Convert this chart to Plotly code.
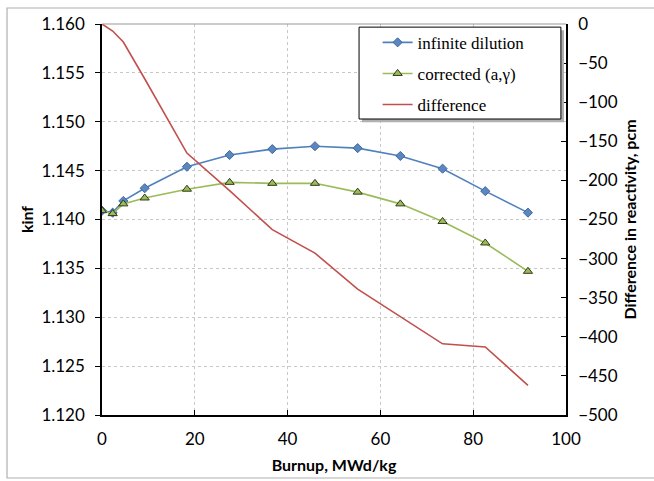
import plotly.graph_objects as go

burnup = [0, 2.3, 4.6, 9.2, 18.3, 27.5, 36.7, 45.9, 55.1, 64.3, 73.4, 82.6, 91.8]
kinf_inf = [1.1409, 1.1407, 1.1419, 1.1432, 1.1454, 1.1466, 1.1472, 1.1475, 1.1473, 1.1465, 1.1452, 1.1429, 1.1407]
kinf_corr = [1.1409, 1.1406, 1.1416, 1.1422, 1.1431, 1.1438, 1.1437, 1.1437, 1.1428, 1.1416, 1.1398, 1.1376, 1.1347]
diff_pcm = [0, -9, -23, -70, -165, -213, -263, -293, -339, -374, -409, -413, -462]

names = ["infinite dilution", "corrected (a,\u03b3)", "difference"]
x_ticks = [0, 20, 40, 60, 80, 100]
y_ticks = [1.120, 1.125, 1.130, 1.135, 1.140, 1.145, 1.150, 1.155, 1.160]
y2_ticks = [0, -50, -100, -150, -200, -250, -300, -350, -400, -450, -500]

blue = "#4f81bd"
green = "#9bbb59"
red = "#c0504d"

fig = go.Figure()
fig.add_trace(go.Scatter(
    x=burnup, y=kinf_inf, name=names[0], mode="lines+markers",
    line=dict(color=blue, width=1.6),
    marker=dict(symbol="diamond", size=7, color="#5b86c0", line=dict(color="#3f6a9e", width=1)),
    legendgroup="a"))
fig.add_trace(go.Scatter(
    x=burnup, y=kinf_corr, name=names[1], mode="lines+markers",
    line=dict(color=green, width=1.6),
    marker=dict(symbol="triangle-up", size=8, color="#9bbb59", line=dict(color="#2f3a17", width=1)),
    legendgroup="b"))
fig.add_trace(go.Scatter(
    x=burnup, y=diff_pcm, name=names[2], mode="lines", yaxis="y2",
    line=dict(color=red, width=1.6), legendgroup="c"))

tickfont = dict(family="Lato, Open Sans, sans-serif", size=17, color="#000")
titlefont = dict(family="Lato, Open Sans, sans-serif", size=16, color="#000", weight="bold")

fig.update_layout(
    width=654, height=481,
    margin=dict(l=102, r=88, t=24, b=66),
    paper_bgcolor="white", plot_bgcolor="white",
    xaxis=dict(
        range=[0, 100], tickvals=x_ticks, ticktext=[str(v) for v in x_ticks],
        showline=True, linecolor="black", linewidth=1.5,
        ticks="inside", ticklen=5, tickcolor="black", automargin=False,
        showgrid=True, gridcolor="#c8c8c8", griddash="dot", gridwidth=1,
        zeroline=False, tickfont=tickfont, ticklabelstandoff=8,
        title=dict(text="Burnup, MWd/kg", font=titlefont, standoff=12)),
    yaxis=dict(
        range=[1.120, 1.160], tickvals=y_ticks, ticktext=["%.3f" % v for v in y_ticks],
        showline=True, linecolor="black", linewidth=1.5,
        ticks="outside", ticklen=5, tickcolor="black", automargin=False,
        showgrid=True, gridcolor="#c8c8c8", griddash="dot", gridwidth=1,
        zeroline=False, tickfont=tickfont, ticklabelstandoff=7,
        title=dict(text="kinf", font=titlefont, standoff=4)),
    yaxis2=dict(
        range=[-500, 0], overlaying="y", side="right", tickvals=y2_ticks,
        showline=True, linecolor="black", linewidth=1.5,
        ticks="inside", ticklen=5, tickcolor="black", automargin=False,
        showgrid=False, zeroline=False, tickfont=tickfont, ticklabelstandoff=7,
        title=dict(text="Difference in reactivity, pcm", font=titlefont, standoff=8)),
    legend=dict(
        x=0.594, y=0.998, xanchor="left", yanchor="top",
        bgcolor="rgba(0,0,0,0)", borderwidth=0,
        font=dict(family="Liberation Serif, Times New Roman, serif", size=17, color="#000"),
        tracegroupgap=6, traceorder="grouped", itemwidth=30),
    shapes=[
        dict(type="rect", xref="paper", yref="paper", x0=-0.2047, x1=1.2026, y0=-0.1611, y1=1.0409,
             line=dict(color="#b0b0b0", width=1.2), layer="below"),
        dict(type="line", xref="paper", yref="paper", x0=0, x1=1, y0=1, y1=1,
             line=dict(color="#9a9a9a", width=1.2), layer="above"),
        dict(type="rect", xref="paper", yref="paper", x0=0.5603, x1=0.9957, y0=0.749, y1=0.984,
             line=dict(width=0), fillcolor="#b0b0b0", layer="above"),
        dict(type="rect", xref="paper", yref="paper", x0=0.554, x1=0.989, y0=0.757, y1=0.992,
             line=dict(color="black", width=1), fillcolor="white", layer="above"),
    ],
)

fig.write_html("out.html")
